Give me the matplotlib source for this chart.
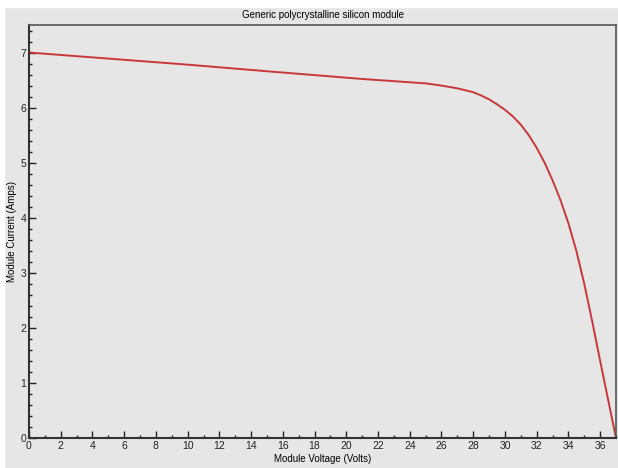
import matplotlib
matplotlib.use('Agg')
import matplotlib.pyplot as plt
from matplotlib.ticker import MultipleLocator
from matplotlib.patches import Rectangle

# I-V curve
voltage = [0, 5, 10, 15, 18, 21, 23, 25, 26, 27, 28, 28.5, 29, 29.5, 30, 30.5,
           31, 31.5, 32, 32.5, 33, 33.5, 34, 34.5, 35, 35.5, 36, 36.5, 37]
current = [7.00, 6.89, 6.78, 6.66, 6.59, 6.52, 6.48, 6.44, 6.40, 6.35, 6.28, 6.22,
           6.15, 6.06, 5.96, 5.84, 5.69, 5.50, 5.27, 5.00, 4.68, 4.32, 3.90, 3.40,
           2.80, 2.12, 1.40, 0.70, 0.00]

title = 'Generic polycrystalline silicon module'
xlabel = 'Module Voltage (Volts)'
ylabel = 'Module Current (Amps)'

bg = '#e6e6e6'
plt.rcParams['font.family'] = ['Liberation Sans', 'DejaVu Sans']

fig = plt.figure(figsize=(6.18, 4.68), dpi=100)
fig.patch.set_facecolor(bg)
# white screenshot margins on top and left
fig.patches.append(Rectangle((0, 1 - 7 / 468), 1, 7 / 468, transform=fig.transFigure,
                             color='white', zorder=0))
fig.patches.append(Rectangle((0, 0), 4 / 618, 1, transform=fig.transFigure,
                             color='white', zorder=0))

ax = fig.add_axes([29 / 618, 30 / 468, 587 / 618, 413 / 468])
ax.set_facecolor(bg)
ax.plot(voltage, current, color='#c8383a', lw=1.4)

ax.set_xlim(0, 37)
ax.set_ylim(0, 7.5)
ax.xaxis.set_major_locator(MultipleLocator(2))
ax.xaxis.set_minor_locator(MultipleLocator(1))
ax.yaxis.set_major_locator(MultipleLocator(1))
ax.yaxis.set_minor_locator(MultipleLocator(0.2))
ax.tick_params(which='both', direction='in', colors='#222222', labelsize=7.5)
ax.tick_params(which='major', length=5, width=1, pad=2)
ax.tick_params(which='minor', length=2.5, width=1)

for s in ['left', 'bottom']:
    ax.spines[s].set_linewidth(1.5)
    ax.spines[s].set_color('#333333')
for s in ['top', 'right']:
    ax.spines[s].set_linewidth(1.2)
    ax.spines[s].set_color('#555555')

ax.set_title(title, fontsize=7, pad=5)
ax.set_xlabel(xlabel, fontsize=7, labelpad=2)
ax.set_ylabel(ylabel, fontsize=7)
ax.yaxis.set_label_coords(-0.020, 0.5)

plt.savefig('out.png', dpi=100, facecolor=fig.get_facecolor())
